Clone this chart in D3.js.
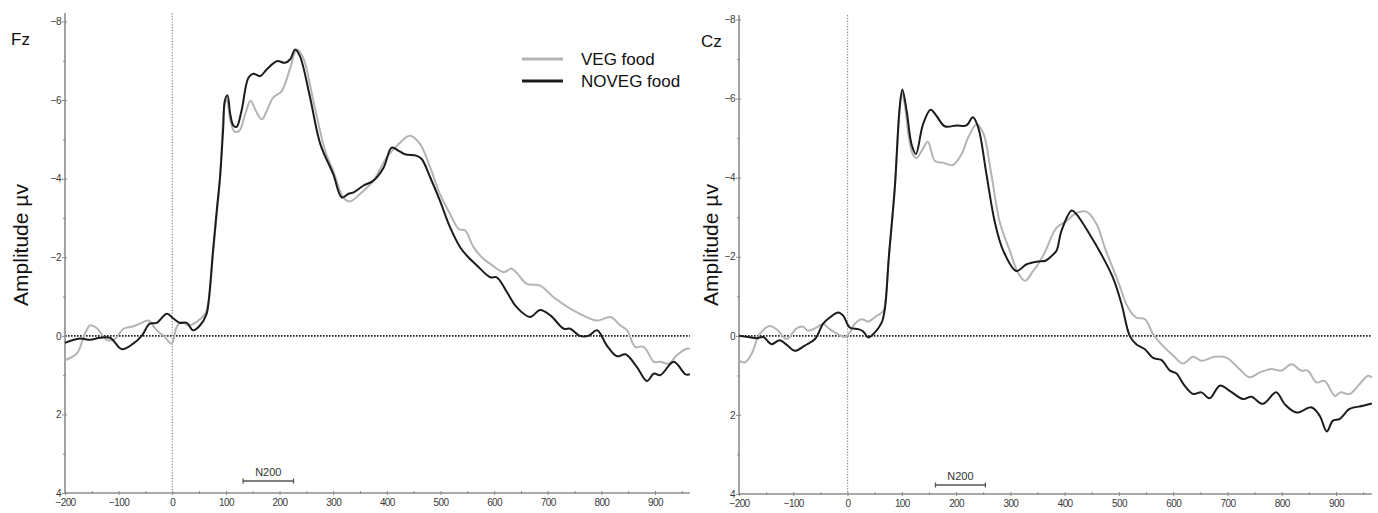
<!DOCTYPE html>
<html><head><meta charset="utf-8">
<script src="https://cdn.jsdelivr.net/npm/d3@7/dist/d3.min.js"></script>
<style>
html,body{margin:0;padding:0;background:#fff;}
svg{display:block;font-family:"Liberation Sans",Arial,sans-serif;}
</style></head>
<body>
<svg id="chart" width="1378" height="513"></svg>
<script>
// ---- data ----
const xMajorTicks = [-200,-100,0,100,200,300,400,500,600,700,800,900];
const xMinorTicks = [-150,-50,50,150,250,350,450,550,650,750,850,950];
const yMajorTicks = [-8,-6,-4,-2,0,2,4];
const yMinorTicks = [-7,-5,-3,-1,1,3];
const seriesNames = ["VEG food","NOVEG food"];
const panelNames = ["Fz","Cz"];
const n200Fz = [132,226];
const n200Cz = [162,254];

const fzVeg = [[-200,0.62],[-178,0.45],[-163,-0.05],[-153,-0.27],[-141,-0.2],[-122,0.11],[-107,0.08],[-91,-0.18],[-76,-0.23],[-60,-0.31],[-45,-0.39],[-29,-0.14],[-14,0.03],[-1,0.2],[8,-0.22],[17,-0.35],[30,-0.27],[45,-0.35],[61,-0.56],[68,-0.9],[76,-2.1],[89,-4.0],[98,-5.9],[102,-6.0],[108,-5.5],[116,-5.2],[125,-5.22],[136,-5.64],[146,-5.98],[156,-5.72],[167,-5.51],[176,-5.72],[188,-6.06],[204,-6.23],[220,-6.82],[232,-7.29],[244,-7.08],[263,-5.98],[285,-4.71],[300,-4.2],[319,-3.52],[331,-3.42],[350,-3.61],[375,-3.95],[400,-4.54],[422,-4.88],[443,-5.09],[462,-4.88],[481,-4.28],[499,-3.61],[518,-3.1],[534,-2.72],[546,-2.68],[562,-2.25],[580,-1.96],[593,-1.83],[618,-1.62],[633,-1.71],[661,-1.32],[686,-1.28],[711,-0.98],[742,-0.69],[760,-0.56],[792,-0.39],[817,-0.48],[835,-0.27],[848,-0.14],[863,0.28],[879,0.28],[898,0.66],[910,0.66],[925,0.71],[941,0.49],[959,0.33],[965,0.33]];
const fzNoveg = [[-200,0.18],[-172,0.07],[-153,0.1],[-135,0.05],[-116,0.05],[-94,0.34],[-73,0.2],[-57,0],[-42,-0.31],[-29,-0.33],[-10,-0.56],[2,-0.44],[14,-0.33],[27,-0.33],[39,-0.14],[52,-0.27],[64,-0.56],[68,-0.9],[76,-2.17],[83,-3.2],[89,-4.03],[95,-5.3],[98,-5.98],[103,-6.12],[108,-5.65],[114,-5.35],[120,-5.32],[129,-5.72],[142,-6.57],[151,-6.67],[164,-6.61],[176,-6.78],[195,-6.99],[210,-6.95],[220,-7.04],[229,-7.29],[238,-7.12],[257,-6.06],[276,-4.88],[300,-4.12],[316,-3.52],[328,-3.61],[338,-3.65],[356,-3.82],[375,-3.95],[394,-4.28],[409,-4.79],[422,-4.71],[434,-4.62],[456,-4.58],[465,-4.5],[481,-4.03],[499,-3.44],[518,-2.76],[537,-2.25],[552,-2.0],[568,-1.79],[593,-1.49],[605,-1.49],[624,-1.11],[642,-0.73],[667,-0.48],[686,-0.66],[705,-0.52],[730,-0.18],[742,-0.18],[760,0],[776,0],[792,-0.14],[810,0.24],[829,0.52],[845,0.47],[866,0.79],[885,1.15],[898,0.96],[910,1.0],[935,0.66],[957,0.98],[965,0.98]];
const czVeg = [[-200,0.63],[-189,0.67],[-177,0.46],[-162,-0.04],[-143,-0.25],[-128,-0.13],[-112,0.08],[-94,-0.19],[-82,-0.23],[-73,-0.13],[-60,-0.19],[-45,-0.3],[-33,-0.17],[-20,-0.06],[-5,0.03],[4,-0.08],[13,-0.3],[26,-0.42],[38,-0.36],[53,-0.5],[66,-0.63],[70,-0.9],[76,-1.95],[87,-3.7],[96,-5.7],[100,-6.15],[106,-5.8],[112,-5.1],[120,-4.6],[127,-4.5],[138,-4.71],[148,-4.91],[161,-4.42],[176,-4.38],[194,-4.32],[210,-4.59],[222,-5.01],[238,-5.35],[250,-5.13],[265,-4.08],[280,-2.9],[299,-2.15],[314,-1.6],[327,-1.39],[342,-1.64],[351,-1.81],[363,-2.1],[385,-2.73],[403,-2.9],[422,-3.11],[440,-3.14],[459,-2.82],[474,-2.23],[498,-1.39],[517,-0.71],[532,-0.46],[548,-0.42],[563,-0.04],[578,0.21],[600,0.5],[618,0.7],[637,0.53],[652,0.63],[676,0.53],[698,0.55],[722,0.84],[741,1.05],[759,0.93],[781,0.84],[799,0.88],[818,0.72],[836,0.88],[848,0.88],[864,1.18],[879,1.14],[898,1.52],[908,1.43],[925,1.47],[941,1.26],[959,1.01],[966,1.05]];
const czNoveg = [[-200,0],[-183,0.03],[-168,0.06],[-155,0.03],[-140,0.21],[-125,0.11],[-112,0.23],[-97,0.38],[-79,0.25],[-60,0.08],[-45,-0.31],[-33,-0.46],[-17,-0.59],[-8,-0.51],[4,-0.21],[20,-0.17],[29,-0.11],[38,0.04],[50,-0.08],[63,-0.34],[69,-0.71],[76,-1.98],[87,-3.74],[96,-5.77],[101,-6.23],[109,-5.68],[118,-4.84],[126,-4.6],[139,-5.35],[153,-5.72],[164,-5.56],[179,-5.3],[201,-5.32],[219,-5.32],[231,-5.53],[241,-5.26],[256,-4.08],[271,-2.9],[287,-2.15],[311,-1.64],[330,-1.81],[351,-1.88],[365,-1.9],[376,-2.02],[385,-2.15],[394,-2.65],[413,-3.17],[422,-3.07],[446,-2.57],[468,-2.05],[489,-1.47],[505,-0.8],[520,0],[532,0.21],[548,0.34],[563,0.56],[578,0.61],[594,0.88],[606,0.95],[621,1.26],[637,1.47],[652,1.43],[667,1.58],[686,1.26],[704,1.39],[729,1.6],[744,1.54],[765,1.72],[790,1.43],[805,1.72],[827,1.94],[855,1.81],[870,2.02],[883,2.42],[894,2.15],[907,2.1],[925,1.85],[950,1.77],[966,1.71]];

// ---- drawing ----
const svg = d3.select("#chart");
const AXIS = "#8c8c8c", LABEL = "#3a3a3a";
const GRAY = "#b4b4b4", BLACK = "#1c1c1c";

const panels = [
  {name: panelNames[0], veg: fzVeg, noveg: fzNoveg, n200: n200Fz,
   xr: [65, 655], xEnd: 965, yr: [21.5, 493], axisTop: 13, titleX: 11, titleY: 45, ampX: 28, legend: true, n200Y: 481},
  {name: panelNames[1], veg: czVeg, noveg: czNoveg, n200: n200Cz,
   xr: [739, 1336], xEnd: 966, yr: [19.5, 494], axisTop: 15, titleX: 701, titleY: 47, ampX: 718, legend: false, n200Y: 485}
];

panels.forEach(p => {
  const x = d3.scaleLinear().domain([-200, 900]).range(p.xr);
  const y = d3.scaleLinear().domain([-8, 4]).range(p.yr);
  const g = svg.append("g");
  const x0 = x(-200), x1 = x(p.xEnd), yb = y(4);

  // zero reference lines
  g.append("line").attr("x1", x(0)).attr("x2", x(0)).attr("y1", p.axisTop).attr("y2", yb)
    .attr("stroke", "#8a8a8a").attr("stroke-width", 1.2).attr("stroke-dasharray", "1.2,1.6");
  g.append("line").attr("x1", x0).attr("x2", x1).attr("y1", y(0)).attr("y2", y(0))
    .attr("stroke", "#222").attr("stroke-width", 1.6).attr("stroke-dasharray", "1.6,1.4");

  // y axis
  const yAx = g.append("g").attr("transform", `translate(${x0},0)`)
    .call(d3.axisLeft(y).tickValues(yMajorTicks).tickSize(3).tickPadding(1).tickFormat(d3.format("d")));
  yAx.select(".domain").remove();
  yAx.selectAll(".tick line").attr("x1", -3).attr("x2", 2).attr("stroke", AXIS);
  yAx.selectAll("text").attr("fill", LABEL).style("font-size", "10px").attr("letter-spacing", "-0.6");
  const yMin = g.append("g").attr("transform", `translate(${x0},0)`)
    .call(d3.axisLeft(y).tickValues(yMinorTicks).tickSize(2).tickFormat(""));
  yMin.select(".domain").remove();
  yMin.selectAll(".tick line").attr("x1", -2).attr("x2", 1).attr("stroke", AXIS);
  g.append("line").attr("x1", x0).attr("x2", x0).attr("y1", p.axisTop).attr("y2", yb)
    .attr("stroke", AXIS).attr("stroke-width", 1.6);

  // x axis
  const xAx = g.append("g").attr("transform", `translate(0,${yb})`)
    .call(d3.axisBottom(x).tickValues(xMajorTicks).tickSize(3).tickPadding(3).tickFormat(d3.format("d")));
  xAx.select(".domain").remove();
  xAx.selectAll(".tick line").attr("y1", -2).attr("y2", 2).attr("stroke", AXIS);
  xAx.selectAll("text").attr("fill", LABEL).style("font-size", "10px").attr("letter-spacing", "-0.6");
  const xMin = g.append("g").attr("transform", `translate(0,${yb})`)
    .call(d3.axisBottom(x).tickValues(xMinorTicks.filter(v => v < p.xEnd)).tickSize(2).tickFormat(""));
  xMin.select(".domain").remove();
  xMin.selectAll(".tick line").attr("y1", -2).attr("y2", 1).attr("stroke", AXIS);
  g.append("line").attr("x1", x0).attr("x2", x1).attr("y1", yb).attr("y2", yb)
    .attr("stroke", AXIS).attr("stroke-width", 1.6);

  // waveforms
  const line = d3.line().x(d => x(d[0])).y(d => y(d[1])).curve(d3.curveCatmullRom.alpha(0.5));
  g.append("path").datum(p.veg).attr("d", line).attr("fill", "none")
    .attr("stroke", GRAY).attr("stroke-width", 2).attr("stroke-linejoin", "round");
  g.append("path").datum(p.noveg).attr("d", line).attr("fill", "none")
    .attr("stroke", BLACK).attr("stroke-width", 2).attr("stroke-linejoin", "round");

  // titles
  g.append("text").attr("x", p.titleX).attr("y", p.titleY).text(p.name)
    .attr("fill", "#111").style("font-size", "17px");
  g.append("text").attr("transform", `translate(${p.ampX},245) rotate(-90)`)
    .attr("text-anchor", "middle").text("Amplitude µv").attr("fill", "#111").style("font-size", "21px");

  // N200 window
  const nx0 = x(p.n200[0]), nx1 = x(p.n200[1]);
  g.append("line").attr("x1", nx0).attr("x2", nx1).attr("y1", p.n200Y).attr("y2", p.n200Y)
    .attr("stroke", "#555").attr("stroke-width", 1.3);
  [nx0, nx1].forEach(v => g.append("line").attr("x1", v).attr("x2", v)
    .attr("y1", p.n200Y - 2.5).attr("y2", p.n200Y + 2.5).attr("stroke", "#555").attr("stroke-width", 1.3));
  g.append("text").attr("x", (nx0 + nx1) / 2).attr("y", p.n200Y - 5).attr("text-anchor", "middle")
    .text("N200").attr("fill", "#333").style("font-size", "11px");

  // legend
  if (p.legend) {
    const lg = svg.append("g");
    [[GRAY, 59, seriesNames[0]], [BLACK, 81, seriesNames[1]]].forEach(([c, yy, t]) => {
      lg.append("line").attr("x1", 522).attr("x2", 563).attr("y1", yy).attr("y2", yy)
        .attr("stroke", c).attr("stroke-width", 3);
      lg.append("text").attr("x", 581).attr("y", yy + 6).text(t).attr("fill", "#111").style("font-size", "17px");
    });
  }
});
</script>
</body></html>
